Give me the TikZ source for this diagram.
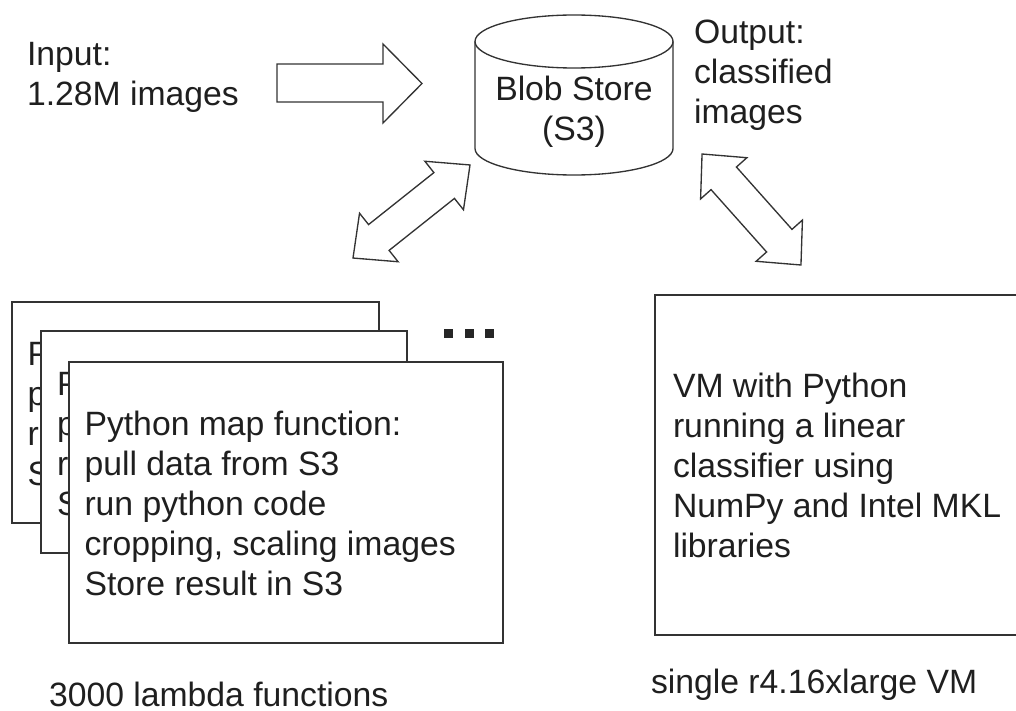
\documentclass[tikz,border=0pt]{standalone}
\usepackage{fontspec}
\setmainfont{Liberation Sans}
\newcommand\dblblockarrow[7]{% cx, cy, angle, halfL, head length, head half width, shaft half width
  \draw[shape line, fill=white, shift={(#1,#2)}, rotate=#3]
    (-#4,0) -- ({-#4+#5},#6) -- ({-#4+#5},#7) -- ({#4-#5},#7) -- ({#4-#5},#6) -- (#4,0)
    -- ({#4-#5},-#6) -- ({#4-#5},-#7) -- ({-#4+#5},-#7) -- ({-#4+#5},-#6) -- cycle;}
\newcommand\txtlines[1]{\begin{tabular}[t]{@{}l@{}}#1\end{tabular}}
\begin{document}
\begin{tikzpicture}[x=0.75pt,y=-0.75pt,
  every node/.style={inner sep=0pt, outer sep=0pt, text=black!88,
    font=\fontsize{25.3}{30}\selectfont},
  shape line/.style={draw=black!80, line width=1pt, line join=miter},
  box/.style={shape line, fill=white},
  dot/.style={fill=black!85}]
\useasboundingbox (0,0) rectangle (1016,710);
\clip (0,0) rectangle (1016,710);

% input label and arrow
\node[anchor=base west] (input) at (27,65) {\txtlines{Input:\\1.28M images}};
\draw[shape line, fill=white] (277,64) -- (383,64) -- (383,44) -- (422,83.5) -- (383,123)
  -- (383,102) -- (277,102) -- cycle;

% blob store cylinder
\draw[shape line, fill=white] (475,41.5) -- (475,148.5)
  arc[start angle=180, end angle=0, x radius=99, y radius=26.5] -- (673,41.5);
\draw[shape line] (574,41.5) ellipse [x radius=99, y radius=26.5];
\node[anchor=base] (blob) at (574,100)
  {\begin{tabular}[t]{@{}c@{}}Blob Store\\(S3)\end{tabular}};

% output label
\node[anchor=base west] (output) at (694,44) {\txtlines{Output:\\classified\\images}};

% double block arrows
\dblblockarrow{411.5}{211.5}{38.5}{74.75}{33}{31}{16.5}
\dblblockarrow{751.5}{209.5}{-48.3}{74.35}{32.6}{31}{17}

% stacked lambda boxes
\draw[box] (12,302) rectangle (379,523);
\node[anchor=base west] (lam1) at (27.5,365)
  {\txtlines{Python map function:\\pull data from S3\\run python code\\Store result in S3}};
\draw[box] (41,331) rectangle (407,553);
\node[anchor=base west] (lam2) at (57,395)
  {\txtlines{Python map function:\\pull data from S3\\run python code\\Store result in S3}};
\draw[box] (69,362) rectangle (503,643);
\node[anchor=base west] (lam3) at (84.5,435)
  {\txtlines{Python map function:\\pull data from S3\\run python code\\cropping, scaling images\\Store result in S3}};

% ellipsis dots
\fill[dot] (443.5,329) rectangle (452.5,338);
\fill[dot] (464.5,329) rectangle (473.5,338);
\fill[dot] (485,329) rectangle (494,338);

% VM box
\draw[box] (655,295) rectangle (1030,635);
\node[anchor=base west] (vm) at (673,397)
  {\txtlines{VM with Python\\running a linear\\classifier using\\NumPy and Intel MKL\\libraries}};

% captions
\node[anchor=base west] (lamlabel) at (49,706) {3000 lambda functions};
\node[anchor=base west] (vmlabel) at (651,693) {single r4.16xlarge VM};
\end{tikzpicture}
\end{document}
